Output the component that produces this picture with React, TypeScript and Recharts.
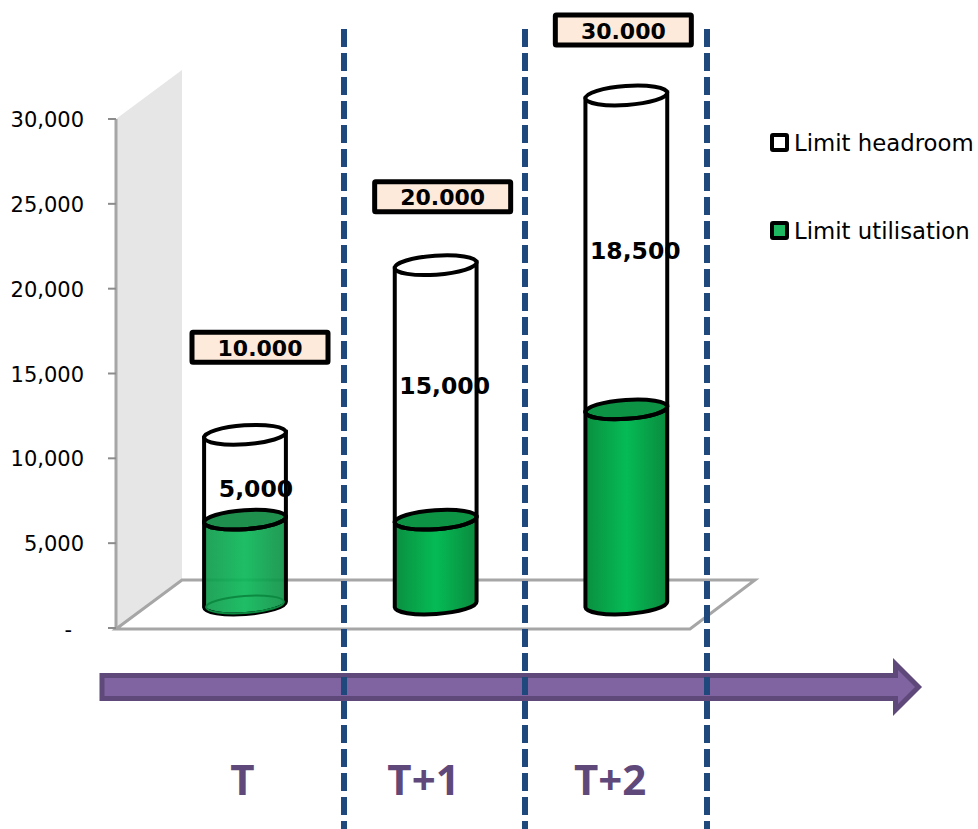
import React from "react";
import { BarChart, Bar, XAxis, YAxis, Legend, LabelList, Customized } from "recharts";

const periods = ["T", "T+1", "T+2"];
const utilisation = [5000, 5000, 11500];
const headroom = [5000, 15000, 18500];
const limitLabels = ["10.000", "20.000", "30.000"];
const yTicks = [0, 5000, 10000, 15000, 20000, 25000, 30000];

const rows = periods.map((period, i) => ({
  period,
  utilisation: utilisation[i],
  headroom: headroom[i],
  limit: limitLabels[i],
}));

// layout constants (not data)
const LIFT = 23.5;
const TILT = 4;
const RY = 9.5;
const LINE = 4;
const SANS = "'DejaVu Sans', sans-serif";
const PURPLE = "#5f497a";
const valueNudge = [{ x: 11, y: 11.5 }, { x: 9, y: -6.5 }, { x: 9, y: -1.5 }];
const boxNudge = [{ x: 15, y: -87.5 }, { x: 7, y: -68.5 }, { x: -3, y: -65.5 }];
const tickNudge = [-3, -12.5, -16.5];
const dividerX = [344, 525, 707];

const Cylinder = (p: any) => {
  const { x, y, width, height, index, kind } = p;
  const cx = x + width / 2;
  const rx = width / 2;
  const top = y - LIFT;
  const bot = y + height - LIFT;
  const rad = (TILT * Math.PI) / 180;
  const dx = rx * Math.cos(rad);
  const dy = rx * Math.sin(rad);
  const body = `M${cx - dx},${top + dy} L${cx - dx},${bot + dy} A${rx},${RY} ${-TILT} 0 0 ${cx + dx},${bot - dy} L${cx + dx},${top - dy} Z`;
  const tf = `rotate(${-TILT} ${cx} ${top})`;
  if (kind === "headroom") {
    return (
      <g>
        <path d={body} fill="none" stroke="#000" strokeWidth={LINE} />
        <ellipse cx={cx} cy={top} rx={rx} ry={RY} transform={tf} fill="#fff" stroke="#000" strokeWidth={LINE} />
      </g>
    );
  }
  const glassy = index === 0;
  return (
    <g>
      <path d={body} fill={glassy ? "url(#greenSoft)" : "url(#greenSolid)"} stroke="#000" strokeWidth={LINE} />
      {glassy && (
        <ellipse cx={cx} cy={bot} rx={rx - 2} ry={RY - 1} transform={`rotate(${-TILT} ${cx} ${bot})`} fill="none" stroke="#0d8a42" strokeWidth={2} />
      )}
      <ellipse cx={cx} cy={top} rx={rx} ry={RY} transform={tf} fill={glassy ? "#1f8f4e" : "#0c9444"} stroke="#000" strokeWidth={LINE} />
    </g>
  );
};

const Backdrop = () => (
  <g>
    <defs>
      <linearGradient id="greenSolid" x1="0" x2="1" y1="0" y2="0">
        <stop offset="0" stopColor="#0a8f40" />
        <stop offset="0.5" stopColor="#05bb55" />
        <stop offset="1" stopColor="#0a8a3e" />
      </linearGradient>
      <linearGradient id="greenSoft" x1="0" x2="1" y1="0" y2="0">
        <stop offset="0" stopColor="#0f9a4b" stopOpacity={0.92} />
        <stop offset="0.5" stopColor="#0bb858" stopOpacity={0.92} />
        <stop offset="1" stopColor="#0f8f46" stopOpacity={0.92} />
      </linearGradient>
    </defs>
    <polygon points="116,119 182,70 182,580 116,629" fill="#e6e6e6" />
    <polygon points="116,629 182,580 755,580 690,629" fill="#fff" stroke="#a6a6a6" strokeWidth={3} />
    <polygon
      points="102,675.5 895.5,675.5 895.5,664 918.5,687 895.5,710 895.5,698.5 102,698.5"
      fill="#8064a2"
      stroke={PURPLE}
      strokeWidth={5}
    />
  </g>
);

const Dividers = () => (
  <g>
    {dividerX.map((x) => (
      <line key={x} x1={x} x2={x} y1={29} y2={829} stroke="#1f497d" strokeWidth={6} strokeDasharray="18 6" />
    ))}
  </g>
);

const YTick = (p: any) => {
  const v = p.payload.value;
  return (
    <text x={v === 0 ? 72 : 84} y={p.y + (v === 0 ? 9 : 8)} textAnchor="end" fontFamily={SANS} fontSize={21} fill="#000">
      {v === 0 ? "-" : v.toLocaleString("en-US")}
    </text>
  );
};

const XTick = (p: any) => (
  <text
    x={p.payload.coordinate + tickNudge[p.index]}
    y={795}
    textAnchor="middle"
    fontFamily="'Open Sans', sans-serif"
    fontWeight={700}
    fontSize={42}
    fill={PURPLE}
  >
    {p.payload.value}
  </text>
);

const ValueLabel = (p: any) => {
  const n = valueNudge[p.index];
  const cx = p.x + p.width / 2 + n.x;
  const cy = p.y + p.height / 2 - LIFT + n.y;
  return (
    <text x={cx} y={cy + 8} textAnchor="middle" fontFamily={SANS} fontWeight={700} fontSize={23.5} fill="#000">
      {Number(p.value).toLocaleString("en-US")}
    </text>
  );
};

const LimitBox = (p: any) => {
  const n = boxNudge[p.index];
  const cx = p.x + p.width / 2 + n.x;
  const cy = p.y - LIFT + n.y;
  return (
    <g>
      <rect x={cx - 68} y={cy - 15} width={136} height={30} fill="#fdeadb" stroke="#000" strokeWidth={5} rx={1} />
      <text x={cx} y={cy + 8.5} textAnchor="middle" fontFamily={SANS} fontWeight={700} fontSize={22} fill="#000">
        {p.value}
      </text>
    </g>
  );
};

const LegendBlock = (p: any) => {
  const items = [...(p.payload || [])];
  return (
    <div>
      {items.map((it: any) => (
        <div key={it.value} style={{ position: "relative", height: 88, whiteSpace: "nowrap" }}>
          <span
            style={{
              position: "absolute",
              left: 0,
              top: 0,
              width: 11,
              height: 11,
              border: "4.5px solid #000",
              borderRadius: 3,
              background: it.payload?.fill ?? it.color,
            }}
          />
          <span
            style={{
              position: "absolute",
              left: 24,
              top: -3,
              fontFamily: SANS,
              fontSize: 22.8,
              lineHeight: "27px",
              color: "#000",
            }}
          >
            {it.value}
          </span>
        </div>
      ))}
    </div>
  );
};

export default function App() {
  return (
    <div style={{ position: "absolute", left: 0, top: 0, width: 978, height: 829, background: "#fff" }}>
      <BarChart
        width={978}
        height={829}
        data={rows}
        barSize={82}
        margin={{ top: 119, right: 223, bottom: 171, left: 0 }}
      >
        <Customized component={Backdrop} />
        <XAxis
          dataKey="period"
          height={30}
          axisLine={false}
          tickLine={false}
          padding={{ left: 34, right: 33 }}
          tick={XTick}
          interval={0}
        />
        <YAxis
          width={116}
          domain={[0, 30000]}
          ticks={yTicks}
          tickSize={8}
          axisLine={{ stroke: "#a6a6a6", strokeWidth: 3 }}
          tickLine={{ stroke: "#8c8c8c", strokeWidth: 2 }}
          tick={YTick}
          interval={0}
        />
        <Legend
          layout="horizontal"
          align="center"
          verticalAlign="middle"
          content={LegendBlock}
          wrapperStyle={{ position: "absolute", left: 770, top: 133, width: 208 }}
        />
        <Bar
          dataKey="utilisation"
          name="Limit utilisation"
          stackId="limit"
          fill="#1db860"
          isAnimationActive={false}
          shape={(p: any) => <Cylinder {...p} kind="utilisation" />}
        />
        <Bar
          dataKey="headroom"
          name="Limit headroom"
          stackId="limit"
          fill="#ffffff"
          isAnimationActive={false}
          shape={(p: any) => <Cylinder {...p} kind="headroom" />}
        >
          <LabelList dataKey="headroom" content={ValueLabel} />
          <LabelList dataKey="limit" content={LimitBox} />
        </Bar>
        <Customized component={Dividers} />
      </BarChart>
    </div>
  );
}
